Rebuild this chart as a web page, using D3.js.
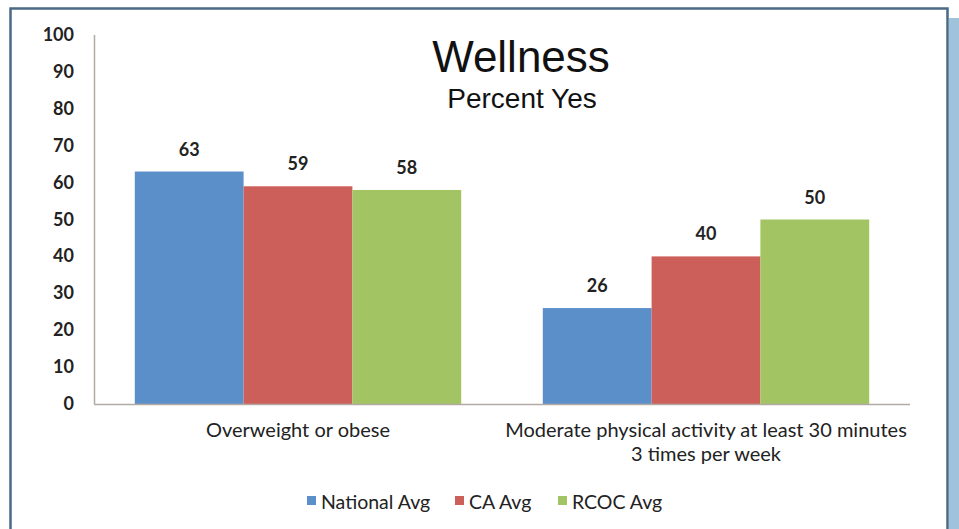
<!DOCTYPE html>
<html><head><meta charset="utf-8">
<script src="https://cdnjs.cloudflare.com/ajax/libs/d3/7.8.5/d3.min.js"></script>
<style>body{margin:0;background:#fff}svg{display:block}</style>
</head><body>
<svg id="c" width="959" height="529"></svg>
<script>
const categories = ["Overweight or obese", "Moderate physical activity at least 30 minutes|3 times per week"];
const seriesNames = ["National Avg", "CA Avg", "RCOC Avg"];
const seriesColors = ["#5b8fc9", "#cd5f5a", "#a3c462"];
const nationalAvg = [63, 26];
const caAvg = [59, 40];
const rcocAvg = [58, 50];
const yTicks = [0,10,20,30,40,50,60,70,80,90,100];
const seriesValues = [nationalAvg, caAvg, rcocAvg];

const svg = d3.select("#c");
const font = "Lato, 'Open Sans', sans-serif";
const titleFont = "'Liberation Sans', Arial, sans-serif";
svg.append("rect").attr("x",0).attr("y",0).attr("width",959).attr("height",529).attr("fill","#fff");
// right strip
svg.append("rect").attr("x",949).attr("y",18).attr("width",10).attr("height",511).attr("fill","#9fc3da");
// frame
svg.append("path").attr("d","M10.5,529 V8.5 H947.5 V529").attr("fill","none").attr("stroke","#4a6a85").attr("stroke-width",2.5);

const x0 = d3.scaleBand().domain(categories).range([94,910]).paddingInner(0.2).paddingOuter(0.1);
const x1 = d3.scaleBand().domain(seriesNames).range([0,x0.bandwidth()]);
const y = d3.scaleLinear().domain([0,100]).range([404,35]);

const g = svg.append("g");
categories.forEach((c,ci)=>{
  seriesNames.forEach((s,si)=>{
    const v = seriesValues[si][ci];
    g.append("rect").attr("x",x0(c)+x1(s)).attr("y",y(v)).attr("width",x1.bandwidth()).attr("height",y(0)-y(v)).attr("fill",seriesColors[si]);
    g.append("text").attr("x",x0(c)+x1(s)+x1.bandwidth()/2).attr("y",y(v)-16).attr("text-anchor","middle")
      .attr("font-family",font).attr("font-size",18).attr("font-weight","bold").attr("fill","#222").text(v);
  });
});

// axes
svg.append("line").attr("x1",94.5).attr("x2",94.5).attr("y1",35).attr("y2",y(0)).attr("stroke","#b3aaa3").attr("stroke-width",1.5);
svg.append("line").attr("x1",94).attr("x2",910).attr("y1",y(0)+0.5).attr("y2",y(0)+0.5).attr("stroke","#b3aaa3").attr("stroke-width",1.5);

yTicks.forEach(t=>{
  svg.append("text").attr("x",74).attr("y",y(t)+6).attr("text-anchor","end").attr("font-family",font)
    .attr("font-size",18).attr("font-weight","bold").attr("fill","#222").text(t);
});

categories.forEach(c=>{
  const lines = c.split("|");
  lines.forEach((l,i)=>{
    svg.append("text").attr("x",x0(c)+x0.bandwidth()/2).attr("y",437+i*24).attr("text-anchor","middle")
      .attr("font-family",font).attr("font-size",20).attr("fill","#222").text(l);
  });
});

svg.append("text").attr("x",521).attr("y",72).attr("text-anchor","middle").attr("font-family",titleFont).attr("font-size",44).attr("fill","#111").text("Wellness");
svg.append("text").attr("x",522).attr("y",108).attr("text-anchor","middle").attr("font-family",titleFont).attr("font-size",28).attr("fill","#111").text("Percent Yes");

const legX = [307, 455, 558];
seriesNames.forEach((s,i)=>{
  svg.append("rect").attr("x",legX[i]).attr("y",496).attr("width",9).attr("height",9).attr("fill",seriesColors[i]);
  svg.append("text").attr("x",legX[i]+14).attr("y",509).attr("font-family",font).attr("font-size",19.5).attr("fill","#222").text(s);
});
</script>
</body></html>
